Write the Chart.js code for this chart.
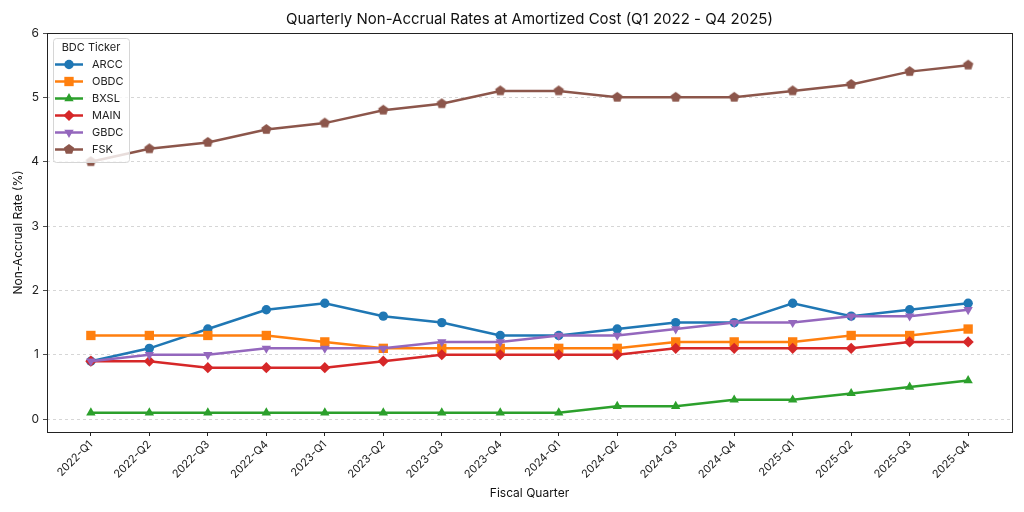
<!DOCTYPE html>
<html>
<head>
<meta charset="utf-8">
<script src="https://cdn.jsdelivr.net/npm/chart.js@4.4.1/dist/chart.umd.min.js"></script>
<style>
    html, body { margin: 0; padding: 0; background: #fff; }
    #wrap { width: 1024px; height: 512px; }
</style>
</head>
<body>
<div id="wrap"><canvas id="chart"></canvas></div>
<script>
const quarters = ["2022-Q1", "2022-Q2", "2022-Q3", "2022-Q4", "2023-Q1", "2023-Q2", "2023-Q3", "2023-Q4",
    "2024-Q1", "2024-Q2", "2024-Q3", "2024-Q4", "2025-Q1", "2025-Q2", "2025-Q3", "2025-Q4"];
const arcc = [0.9, 1.1, 1.4, 1.7, 1.8, 1.6, 1.5, 1.3, 1.3, 1.4, 1.5, 1.5, 1.8, 1.6, 1.7, 1.8];
const obdc = [1.3, 1.3, 1.3, 1.3, 1.2, 1.1, 1.1, 1.1, 1.1, 1.1, 1.2, 1.2, 1.2, 1.3, 1.3, 1.4];
const bxsl = [0.1, 0.1, 0.1, 0.1, 0.1, 0.1, 0.1, 0.1, 0.1, 0.2, 0.2, 0.3, 0.3, 0.4, 0.5, 0.6];
const main = [0.9, 0.9, 0.8, 0.8, 0.8, 0.9, 1.0, 1.0, 1.0, 1.0, 1.1, 1.1, 1.1, 1.1, 1.2, 1.2];
const gbdc = [0.9, 1.0, 1.0, 1.1, 1.1, 1.1, 1.2, 1.2, 1.3, 1.3, 1.4, 1.5, 1.5, 1.6, 1.6, 1.7];
const fsk = [4.0, 4.2, 4.3, 4.5, 4.6, 4.8, 4.9, 5.1, 5.1, 5.0, 5.0, 5.0, 5.1, 5.2, 5.4, 5.5];
const yTicks = [0, 1, 2, 3, 4, 5, 6];

const TITLE = "Quarterly Non-Accrual Rates at Amortized Cost (Q1 2022 - Q4 2025)";
const FONT = "Inter, 'DejaVu Sans', sans-serif";

// pentagon marker (Chart.js has no built-in one)
const pentagon = (color, r) => {
    const c = document.createElement("canvas");
    c.width = c.height = Math.ceil(r * 2 + 2);
    const g = c.getContext("2d");
    const cx = c.width / 2, cy = c.height / 2;
    g.beginPath();
    for (let k = 0; k < 5; k++) {
        const a = -Math.PI / 2 + k * 2 * Math.PI / 5;
        g.lineTo(cx + r * Math.cos(a), cy + r * Math.sin(a));
    }
    g.closePath();
    g.fillStyle = color;
    g.fill();
    return c;
};

const series = [
    { label: "ARCC", data: arcc, color: "#1f77b4", style: "circle", radius: 4.7 },
    { label: "OBDC", data: obdc, color: "#ff7f0e", style: "rect", radius: 6.6 },
    { label: "BXSL", data: bxsl, color: "#2ca02c", style: "triangle", radius: 5.4 },
    { label: "MAIN", data: main, color: "#d62728", style: "rectRot", radius: 5.6 },
    { label: "GBDC", data: gbdc, color: "#9467bd", style: "triangle", radius: 5.4, rotation: 180 },
    { label: "FSK", data: fsk, color: "#8c564b", style: "pentagon", radius: 5.4 }
];

const drawMarker = (ctx, s, x, y) => {
    ctx.save();
    ctx.fillStyle = s.color;
    ctx.translate(x, y);
    ctx.rotate((s.rotation || 0) * Math.PI / 180);
    ctx.beginPath();
    const r = s.radius;
    if (s.style === "circle") {
        ctx.arc(0, 0, r, 0, Math.PI * 2);
    } else if (s.style === "rect") {
        const h = Math.SQRT1_2 * r;
        ctx.rect(-h, -h, 2 * h, 2 * h);
    } else if (s.style === "rectRot") {
        ctx.moveTo(-r, 0); ctx.lineTo(0, -r); ctx.lineTo(r, 0); ctx.lineTo(0, r);
    } else if (s.style === "triangle") {
        for (let k = 0; k < 3; k++) {
            const a = -Math.PI / 2 + k * 2 * Math.PI / 3;
            ctx.lineTo(r * Math.cos(a), r * Math.sin(a));
        }
    } else {
        for (let k = 0; k < 5; k++) {
            const a = -Math.PI / 2 + k * 2 * Math.PI / 5;
            ctx.lineTo(r * Math.cos(a), r * Math.sin(a));
        }
    }
    ctx.closePath();
    ctx.fill();
    ctx.restore();
};

const frame = {
    id: "frame",
    afterDatasetsDraw(chart) {
        const { ctx, chartArea: a } = chart;
        ctx.save();
        ctx.strokeStyle = "#222";
        ctx.lineWidth = 1;
        ctx.strokeRect(Math.round(a.left) + 0.5, Math.round(a.top) + 0.5,
            Math.round(a.right - a.left), Math.round(a.bottom - a.top));

        // title centred over the plot area, like matplotlib
        ctx.fillStyle = "#111";
        ctx.font = `15px ${FONT}`;
        ctx.textAlign = "center";
        ctx.textBaseline = "middle";
        ctx.fillText(TITLE, (a.left + a.right) / 2, 19);

        // legend box, upper left inside the plot
        const x0 = Math.round(a.left) + 6, y0 = Math.round(a.top) + 5, w = 76, h = 124;
        ctx.fillStyle = "rgba(255,255,255,0.8)";
        ctx.strokeStyle = "#d6d6d6";
        ctx.beginPath();
        ctx.roundRect(x0 + 0.5, y0 + 0.5, w, h, 3);
        ctx.fill();
        ctx.stroke();
        ctx.fillStyle = "#222";
        ctx.font = `11px ${FONT}`;
        ctx.fillText("BDC Ticker", x0 + w / 2, y0 + 9.5);
        ctx.textAlign = "left";
        series.forEach((s, i) => {
            const y = y0 + 26.5 + i * 17;
            ctx.strokeStyle = s.color;
            ctx.lineWidth = 2.5;
            ctx.beginPath();
            ctx.moveTo(x0 + 2, y);
            ctx.lineTo(x0 + 30, y);
            ctx.stroke();
            drawMarker(ctx, s, x0 + 16, y);
            ctx.fillStyle = "#222";
            ctx.fillText(s.label, x0 + 39, y + 0.5);
        });
        ctx.restore();
    }
};

const datasets = series.map((s, i) => ({
    label: s.label,
    data: s.data.map((v, j) => ({ x: j, y: v })),
    borderColor: s.color,
    backgroundColor: s.color,
    borderWidth: 2.5,
    pointStyle: s.style === "pentagon" ? pentagon(s.color, s.radius) : s.style,
    pointRotation: s.rotation || 0,
    pointRadius: s.radius,
    pointBorderWidth: 0,
    pointHoverRadius: s.radius,
    tension: 0,
    order: series.length - i
}));

new Chart(document.getElementById("chart"), {
    type: "line",
    data: { datasets },
    plugins: [frame],
    options: {
        responsive: true,
        maintainAspectRatio: false,
        animation: false,
        devicePixelRatio: 1,
        layout: { padding: { left: 7, right: 12, top: 33, bottom: 0 } },
        plugins: {
            legend: { display: false },
            tooltip: { enabled: false },
            title: { display: false }
        },
        scales: {
            x: {
                type: "linear",
                min: -0.75,
                max: 15.75,
                afterBuildTicks: (scale) => {
                    scale.ticks = quarters.map((q, i) => ({ value: i }));
                },
                afterFit: (scale) => { scale.height = 80; },
                ticks: {
                    autoSkip: false,
                    maxRotation: 45,
                    minRotation: 45,
                    padding: 2,
                    color: "#222",
                    font: { family: FONT, size: 11 },
                    callback: (v) => quarters[v]
                },
                grid: {
                    drawOnChartArea: false,
                    drawTicks: true,
                    tickLength: 4,
                    tickColor: "#222"
                },
                border: { display: false },
                title: {
                    display: true,
                    text: "Fiscal Quarter",
                    color: "#111",
                    font: { family: FONT, size: 12 },
                    padding: { top: 0, bottom: 11 }
                }
            },
            y: {
                min: -0.2,
                max: 6,
                afterBuildTicks: (scale) => {
                    scale.ticks = yTicks.map(v => ({ value: v }));
                },
                afterFit: (scale) => { scale.width = 40; },
                ticks: {
                    padding: 4,
                    color: "#222",
                    font: { family: FONT, size: 12 }
                },
                grid: {
                    color: "#cccccc",
                    lineWidth: 0.8,
                    drawTicks: true,
                    tickLength: 4,
                    tickColor: "#222",
                    tickBorderDash: []
                },
                border: { display: false, dash: [3, 3] },
                title: {
                    display: true,
                    text: "Non-Accrual Rate (%)",
                    color: "#111",
                    font: { family: FONT, size: 12 },
                    padding: { top: 4, bottom: 2 }
                }
            }
        }
    }
});
</script>
</body>
</html>
